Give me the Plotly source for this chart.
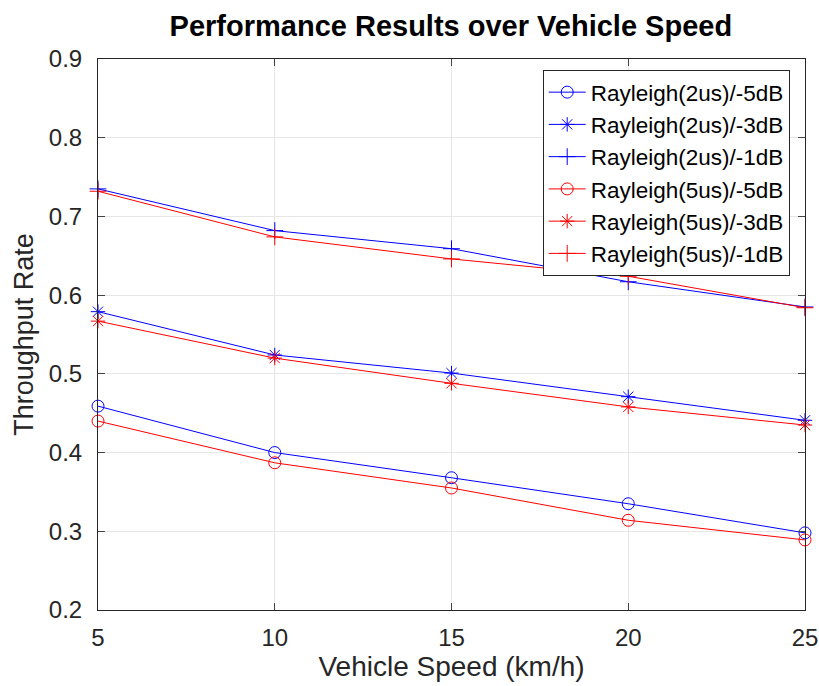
import plotly.graph_objects as go

speeds = [5, 10, 15, 20, 25]
r2_m5 = [0.459, 0.400, 0.368, 0.335, 0.298]
r2_m3 = [0.579, 0.524, 0.501, 0.471, 0.441]
r2_m1 = [0.735, 0.682, 0.659, 0.617, 0.585]
r5_m5 = [0.440, 0.387, 0.355, 0.314, 0.289]
r5_m3 = [0.567, 0.520, 0.488, 0.458, 0.435]
r5_m1 = [0.732, 0.674, 0.646, 0.624, 0.584]

series = [
    ("Rayleigh(2us)/-5dB", r2_m5, "blue", "circle-open"),
    ("Rayleigh(2us)/-3dB", r2_m3, "blue", "asterisk-open"),
    ("Rayleigh(2us)/-1dB", r2_m1, "blue", "cross-thin-open"),
    ("Rayleigh(5us)/-5dB", r5_m5, "red", "circle-open"),
    ("Rayleigh(5us)/-3dB", r5_m3, "red", "asterisk-open"),
    ("Rayleigh(5us)/-1dB", r5_m1, "red", "cross-thin-open"),
]
colors = {"blue": "#0000ff", "red": "#ff0000"}

fig = go.Figure()
for name, vals, c, sym in series:
    fig.add_trace(go.Scatter(
        x=speeds, y=vals, name=name, mode="lines+markers",
        line=dict(color=colors[c], width=1),
        marker=dict(symbol=sym, size=12, color=colors[c], line=dict(width=1, color=colors[c])),
        cliponaxis=False,
    ))

font = "Liberation Sans, Arial, sans-serif"
fig.update_layout(
    width=819, height=686, autosize=False,
    margin=dict(l=98, r=14, t=59, b=76),
    paper_bgcolor="white", plot_bgcolor="white",
    font=dict(family=font, size=24, color="#262626"),
    title=dict(text="<b>Performance Results over Vehicle Speed</b>", x=0.5505, xanchor="center",
               y=0.963, yanchor="middle", font=dict(size=29, color="black")),
    legend=dict(x=0.629, y=0.980, xanchor="left", yanchor="top",
                bordercolor="#262626", borderwidth=1, bgcolor="white",
                font=dict(size=22.5, color="black"), tracegroupgap=0, itemwidth=37),
    showlegend=True,
)
fig.update_xaxes(range=[5, 25], tickvals=[5, 10, 15, 20, 25], ticks="inside", ticklen=7,
                 showline=True, linecolor="#262626", linewidth=1, mirror="ticks",
                 showgrid=True, gridcolor="#e6e6e6", zeroline=False, automargin=False,
                 ticklabelstandoff=6,
                 title=dict(text="Vehicle Speed (km/h)", font=dict(size=28), standoff=0),
                 tickfont=dict(size=24))
fig.update_yaxes(range=[0.2, 0.9], tickvals=[0.2, 0.3, 0.4, 0.5, 0.6, 0.7, 0.8, 0.9],
                 tickformat=".1f", ticks="inside", ticklen=7,
                 showline=True, linecolor="#262626", linewidth=1, mirror="ticks",
                 showgrid=True, gridcolor="#e6e6e6", zeroline=False, automargin=False,
                 ticklabelstandoff=10,
                 title=dict(text="Throughput Rate", font=dict(size=27), standoff=7),
                 tickfont=dict(size=24))

fig.write_html("out.html")
